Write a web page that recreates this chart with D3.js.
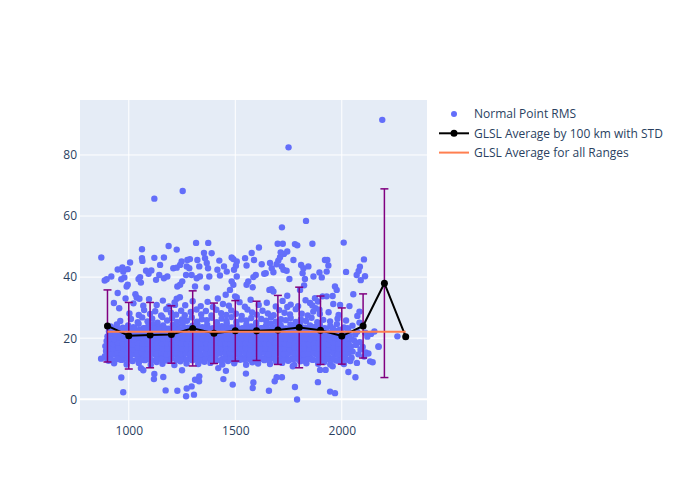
<!DOCTYPE html>
<html>
<head>
<meta charset="utf-8">
<script src="https://cdn.jsdelivr.net/npm/d3@7"></script>
<style>
  body { margin: 0; background: #fff; }
  text { font-family: "Open Sans", verdana, arial, sans-serif; fill: #2a3f5f; }
</style>
</head>
<body>
<div id="chart"></div>
<script>
// Range (km) / RMS pairs, grouped by height band
const rmsOutliers = [[2190,91.5],[1750,82.5],[1120,65.7],[1253,68.2],[1832,58.4],[1719,56.3]];

const rmsHigh = [
  [871,46.4],[887,38.9],[896,39.3],[918,40.2],[948,42.5],[970,43.2],[995,42.6],[974,41.8],
  [965,39.3],[979,39.9],[990,36.9],[995,37.5],[1006,44.8],[948,34.8],[1031,34.4],[1037,33.3],
  [1050,32.9],[1062,49.1],[1062,46.2],[1064,45.3],[1046,39.4],[1053,40.0],[1057,38.2],[1081,42.1],
  [1093,41.1],[1106,42.2],[1120,46.3],[1147,44.0],[1165,46.4],[1143,40.7],[1128,39.1],[1187,50.2],
  [1225,49.0],[1165,39.6],[1181,40.2],[1209,42.9],[1225,43.1],[1241,44.0],[1248,45.1],[1228,36.9],
  [1241,37.5],[1251,38.6],[1217,30.9],[1225,32.9],[1275,45.6],[1287,45.9],[1272,43.5],[1284,42.9],
  [1295,40.7],[1269,40.7],[1316,51.2],[1373,51.2],[1353,47.9],[1322,45.6],[1331,43.5],[1334,40.2],
  [1319,39.6],[1311,36.9],[1358,46.2],[1366,44.6],[1372,42.9],[1389,47.8],[1378,40.2],[1366,36.6],
  [1425,45.4],[1416,42.4],[1447,43.5],[1460,41.8],[1428,40.5],[1483,46.4],[1491,45.9],[1507,45.1],
  [1503,43.7],[1494,42.4],[1507,40.2],[1483,38.6],[1491,37.5],[1455,34.2],[1475,35.8],[1499,33.7],
  [1507,33.3],[1546,46.2],[1553,43.8],[1577,47.9],[1588,45.6],[1596,40.7],[1585,40.0],[1611,49.7],
  [1553,37.5],[1561,38.6],[1582,36.7],[1624,44.2],[1636,41.1],[1643,41.3],[1663,44.6],[1671,42.9],
  [1679,41.6],[1694,44.2],[1702,45.4],[1699,50.9],[1723,50.9],[1713,48.1],[1729,47.6],[1744,48.4],
  [1741,42.1],[1754,39.4],[1726,42.4],[1718,43.5],[1710,46.5],[1660,35.8],[1671,36.0],[1679,35.3],
  [1744,33.9],[1744,30.2],[1780,50.8],[1791,50.4],[1862,50.9],[1773,45.6],[1809,44.0],[1820,42.9],
  [1843,43.5],[1816,41.3],[1827,39.4],[1823,37.3],[1804,35.8],[1851,31.5],[1867,40.2],[1895,41.5],
  [1921,45.6],[1932,45.6],[1937,43.8],[1929,41.8],[1906,39.9],[1874,33.1],[1877,29.8],[1888,32.0],
  [1895,29.3],[1929,33.7],[1910,33.7],[1957,33.8],[1968,36.9],[1976,35.8],[1992,30.9],[2009,51.3],
  [2020,41.7],[2036,30.5],[2054,34.4],[2070,40.7],[2079,42.0],[2085,43.4],[2089,39.0],[2104,45.8],
  [2109,40.3],[2083,28.7],[2083,25.1],[930,31.5],[955,29.8],[985,33.0]
];

const rmsMid = [
  [960,25.6],[1010,26.3],[1042,25.2],[1063,26.8],[1088,25.5],[1110,26.4],[1135,25.1],[1158,26.9],
  [1180,25.8],[1203,26.5],[1226,25.3],[1250,26.1],[1273,25.7],[1296,26.8],[1320,25.4],[1343,26.2],
  [1366,25.9],[1390,26.7],[1413,25.2],[1436,26.4],[1459,25.6],[1482,26.9],[1505,25.3],[1528,26.1],
  [1552,25.8],[1575,26.6],[1598,25.1],[1622,26.3],[1645,25.7],[1668,26.8],[1691,25.4],[1714,26.2],
  [1737,25.9],[1760,26.6],[1784,25.3],[1808,26.1],[1832,25.6],[1858,26.7],[1885,25.2],[1913,26.0],
  [1945,25.5],[1980,26.4],[2020,25.8],[2073,27.3],
  [1003,28.1],[1047,27.6],[1072,29.2],[1100,27.9],[1124,28.8],[1152,27.4],[1176,29.5],[1198,28.3],
  [1222,27.7],[1246,29.0],[1263,27.5],[1291,28.6],[1318,29.4],[1340,27.8],[1362,28.9],[1388,27.4],
  [1411,29.3],[1434,28.2],[1458,27.6],[1481,29.1],[1503,28.0],[1530,27.3],[1557,29.4],[1579,28.4],
  [1601,27.7],[1628,29.0],[1653,28.1],[1680,27.5],[1706,29.2],[1731,28.3],[1757,27.8],[1784,29.5],
  [1812,28.0],[1840,27.4],[1866,28.7],[1897,27.9],[1938,28.5],[1985,27.6],
  [1022,31.4],[1068,30.6],[1095,32.8],[1131,30.9],[1160,32.3],[1188,30.4],[1215,31.7],[1240,33.4],
  [1265,30.8],[1300,32.1],[1338,30.5],[1370,31.9],[1395,30.2],[1418,33.0],[1442,31.2],[1470,30.6],
  [1520,31.8],[1545,30.3],[1572,32.6],[1610,30.9],[1648,31.6],[1690,30.4],[1722,32.2],[1760,31.0],
  [1795,30.5],[1830,32.4],[1862,30.7],[1960,31.2]
];

const rmsBand = [
  [905,12.6],[931,11.8],[962,12.9],[990,11.4],[1018,12.5],[1047,11.9],[1075,12.8],[1103,11.3],
  [1131,12.2],[1158,11.6],[1189,12.9],[1214,11.2],[1242,12.4],[1271,11.7],[1298,12.8],[1326,11.5],
  [1355,12.3],[1383,11.9],[1410,12.7],[1439,11.4],[1466,12.5],[1495,11.8],[1523,12.9],[1551,11.3],
  [1580,12.1],[1607,11.7],[1636,12.8],[1663,11.5],[1692,12.3],[1720,11.9],[1748,12.6],[1777,11.2],
  [1805,12.4],[1834,11.8],[1861,12.9],[1889,11.6],[1918,12.2],[1946,11.4],[1974,12.7],[2003,12.0],
  [2040,12.5],[2071,11.9],
  [888,14.1],[912,13.4],[934,14.7],[957,13.8],[981,14.4],[1004,13.3],[1027,14.9],[1050,13.9],
  [1073,14.3],[1096,13.5],[1119,14.8],[1143,13.7],[1166,14.2],[1188,13.4],[1212,14.6],[1235,13.9],
  [1257,14.4],[1281,13.2],[1304,14.8],[1326,14.0],[1349,13.6],[1373,14.5],[1396,13.8],[1418,14.9],
  [1441,13.3],[1464,14.2],[1488,13.7],[1510,14.6],[1533,13.5],[1556,14.3],[1580,13.9],[1602,14.7],
  [1625,13.4],[1648,14.1],[1671,13.8],[1694,14.9],[1717,13.6],[1740,14.4],[1763,13.2],[1786,14.6],
  [1809,13.9],[1832,14.3],[1855,13.5],[1878,14.8],[1901,13.7],[1924,14.2],[1947,13.4],[1970,14.6],
  [1993,13.9],[2017,14.4],[2046,13.6],[2078,14.7],[2105,14.0],
  [893,15.8],[917,16.4],[940,15.3],[963,16.1],[986,15.6],[1009,16.5],[1032,15.2],[1055,16.0],
  [1079,15.7],[1101,16.3],[1124,15.4],[1147,16.6],[1170,15.9],[1193,15.1],[1216,16.2],[1239,15.6],
  [1262,16.4],[1285,15.3],[1308,16.0],[1332,15.8],[1354,16.5],[1377,15.2],[1400,16.1],[1423,15.7],
  [1446,16.4],[1469,15.4],[1492,16.0],[1515,15.9],[1538,16.6],[1561,15.3],[1584,16.2],[1607,15.6],
  [1630,16.3],[1653,15.1],[1676,15.9],[1699,16.5],[1722,15.5],[1745,16.1],[1768,15.8],[1791,16.4],
  [1814,15.2],[1837,16.0],[1860,15.7],[1883,16.6],[1906,15.4],[1929,16.2],[1952,15.9],[1975,16.4],
  [1998,15.3],[2022,16.1],[2051,15.6],[2088,16.3],
  [890,17.4],[914,16.9],[937,18.0],[960,17.2],[983,17.8],[1006,16.8],[1029,17.6],[1052,18.1],
  [1075,17.0],[1098,17.7],[1121,16.7],[1144,17.9],[1167,17.3],[1190,18.2],[1213,16.9],[1236,17.5],
  [1259,18.0],[1282,17.1],[1305,17.8],[1328,16.7],[1351,17.6],[1374,18.1],[1397,17.2],[1420,17.9],
  [1443,16.8],[1466,17.4],[1489,18.2],[1512,17.0],[1535,17.7],[1558,16.9],[1581,17.8],[1604,17.3],
  [1627,18.1],[1650,16.8],[1673,17.5],[1696,18.0],[1719,17.1],[1742,17.7],[1765,16.9],[1788,17.9],
  [1811,17.3],[1834,18.1],[1857,16.7],[1880,17.6],[1903,18.0],[1926,17.2],[1949,17.8],[1972,16.9],
  [1995,17.5],[2019,18.1],[2043,17.3],[2067,17.8],[2098,17.1],
  [896,19.1],[919,18.5],[942,19.6],[965,18.8],[988,19.3],[1011,18.4],[1034,19.7],[1057,18.9],
  [1080,19.4],[1103,18.3],[1126,19.0],[1149,19.8],[1172,18.6],[1195,19.2],[1218,18.4],[1241,19.6],
  [1264,18.9],[1287,19.3],[1310,18.5],[1333,19.7],[1356,19.0],[1379,18.3],[1402,19.5],[1425,18.8],
  [1448,19.2],[1471,18.6],[1494,19.8],[1517,19.0],[1540,18.4],[1563,19.4],[1586,18.7],[1609,19.6],
  [1632,18.9],[1655,19.3],[1678,18.3],[1701,19.1],[1724,19.7],[1747,18.6],[1770,19.4],[1793,18.8],
  [1816,19.6],[1839,18.4],[1862,19.2],[1885,18.9],[1908,19.7],[1931,18.5],[1954,19.3],[1977,18.8],
  [2000,19.5],[2027,18.6],[2058,19.2],[2084,18.7],
  [900,20.6],[926,21.2],[949,20.1],[972,20.9],[995,21.3],[1018,20.2],[1041,20.8],[1064,21.4],
  [1087,20.4],[1110,21.0],[1133,20.0],[1156,20.7],[1179,21.3],[1202,20.3],[1225,21.0],[1248,20.5],
  [1271,21.4],[1294,20.1],[1317,20.8],[1340,21.2],[1363,20.4],[1386,21.0],[1409,20.6],[1432,21.3],
  [1455,20.0],[1478,20.9],[1501,21.4],[1524,20.3],[1547,20.8],[1570,21.1],[1593,20.2],[1616,20.9],
  [1639,21.4],[1662,20.5],[1685,21.0],[1708,20.1],[1731,20.8],[1754,21.3],[1777,20.4],[1800,21.0],
  [1823,20.6],[1846,21.3],[1869,20.2],[1892,20.9],[1915,21.2],[1938,20.4],[1961,20.8],[1984,21.1],
  [2011,20.3],[2035,20.9],[2063,21.2],[2120,20.5],
  [907,22.3],[933,21.7],[958,22.8],[981,22.0],[1004,22.6],[1027,21.6],[1050,22.4],[1073,22.9],
  [1096,21.8],[1119,22.5],[1142,21.5],[1165,22.2],[1188,22.9],[1211,21.9],[1234,22.6],[1257,21.6],
  [1280,22.3],[1303,22.8],[1326,21.8],[1349,22.5],[1372,22.0],[1395,22.9],[1418,21.7],[1441,22.4],
  [1464,22.9],[1487,21.9],[1510,22.5],[1533,21.5],[1556,22.3],[1579,22.8],[1602,21.7],[1625,22.4],
  [1648,22.9],[1671,22.0],[1694,22.6],[1717,21.6],[1740,22.3],[1763,22.8],[1786,21.9],[1809,22.5],
  [1832,21.6],[1855,22.2],[1878,22.8],[1901,21.8],[1924,22.5],[1947,21.7],[1973,22.4],[1999,21.9],
  [2030,22.6],[2072,22.1],[2110,21.8],
  [915,23.8],[944,24.5],[972,23.4],[997,24.2],[1022,23.6],[1046,24.7],[1069,23.3],[1092,24.0],
  [1115,24.6],[1138,23.5],[1161,24.2],[1184,23.1],[1207,24.4],[1230,23.8],[1253,24.7],[1276,23.4],
  [1299,24.1],[1322,24.6],[1345,23.6],[1368,24.3],[1391,23.2],[1414,24.5],[1437,23.9],[1460,24.7],
  [1483,23.5],[1506,24.2],[1529,23.1],[1552,24.4],[1575,23.8],[1598,24.6],[1621,23.3],[1644,24.1],
  [1667,24.7],[1690,23.6],[1713,24.3],[1736,23.2],[1759,24.5],[1782,23.9],[1805,24.6],[1828,23.4],
  [1851,24.2],[1874,23.7],[1897,24.4],[1920,23.3],[1946,24.0],[1977,24.6],[2010,23.5],[2050,24.1],
  [2137,21.4],[2153,22.2],[2172,17.3],[2261,20.6],[2133,12.4],[2145,12.1],[2112,15.3],[2125,15.0],[2173,17.2]
];

// second pass over the dense core, between the rows above
const rmsCore = [
  [899,13.0],[923,12.8],[946,13.2],[970,12.9],[995,13.1],[1016,12.7],[1040,13.3],[1062,12.9],
  [1086,13.1],[1108,12.8],[1132,13.2],[1155,13.0],[1178,12.7],[1200,13.3],[1224,12.9],[1247,13.1],
  [1270,12.8],[1293,13.2],[1315,13.0],[1338,12.7],[1361,13.3],[1385,12.9],[1408,13.1],[1430,12.8],
  [1453,13.2],[1476,13.0],[1499,12.7],[1522,13.3],[1545,12.9],[1568,13.1],[1591,12.8],[1614,13.2],
  [1637,13.0],[1660,12.7],[1683,13.3],[1706,12.9],[1729,13.1],[1752,12.8],[1775,13.2],[1798,13.0],
  [1821,12.7],[1844,13.3],[1867,12.9],[1890,13.1],[1913,12.8],[1936,13.2],[1959,13.0],[1982,12.7],
  [2005,13.3],[2030,12.9],
  [901,15.1],[924,14.8],[947,15.3],[968,14.9],[993,15.2],[1014,14.7],[1039,15.0],[1061,15.3],
  [1085,14.8],[1106,15.1],[1131,14.9],[1153,15.2],[1178,14.7],[1198,15.0],[1223,15.3],[1245,14.8],
  [1269,15.1],[1291,14.9],[1316,15.2],[1336,14.7],[1361,15.0],[1383,15.3],[1408,14.8],[1428,15.1],
  [1453,14.9],[1474,15.2],[1500,14.7],[1520,15.0],[1545,15.3],[1566,14.8],[1592,15.1],[1612,14.9],
  [1637,15.2],[1658,14.7],[1683,15.0],[1704,15.3],[1729,14.8],[1750,15.1],[1775,14.9],[1796,15.2],
  [1821,14.7],[1842,15.0],[1867,15.3],[1888,14.8],[1913,15.1],[1934,14.9],[1959,15.2],[1980,14.7],
  [2006,15.0],[2033,15.2],
  [903,16.7],[928,16.5],[951,16.9],[974,16.6],[997,16.8],[1020,16.4],[1043,16.9],[1066,16.6],
  [1089,16.7],[1112,16.5],[1135,16.9],[1158,16.6],[1181,16.8],[1204,16.4],[1227,16.9],[1250,16.6],
  [1273,16.7],[1296,16.5],[1319,16.9],[1342,16.6],[1365,16.8],[1388,16.4],[1411,16.9],[1434,16.6],
  [1457,16.7],[1480,16.5],[1503,16.9],[1526,16.6],[1549,16.8],[1572,16.4],[1595,16.9],[1618,16.6],
  [1641,16.7],[1664,16.5],[1687,16.9],[1710,16.6],[1733,16.8],[1756,16.4],[1779,16.9],[1802,16.6],
  [1825,16.7],[1848,16.5],[1871,16.9],[1894,16.6],[1917,16.8],[1940,16.4],[1963,16.9],[1986,16.6],
  [2008,16.7],[2034,16.5],
  [902,18.3],[926,18.1],[949,18.5],[972,18.2],[995,18.4],[1018,18.0],[1041,18.5],[1064,18.2],
  [1087,18.3],[1110,18.1],[1133,18.5],[1156,18.2],[1179,18.4],[1202,18.0],[1225,18.5],[1248,18.2],
  [1271,18.3],[1294,18.1],[1317,18.5],[1340,18.2],[1363,18.4],[1386,18.0],[1409,18.5],[1432,18.2],
  [1455,18.3],[1478,18.1],[1501,18.5],[1524,18.2],[1547,18.4],[1570,18.0],[1593,18.5],[1616,18.2],
  [1639,18.3],[1662,18.1],[1685,18.5],[1708,18.2],[1731,18.4],[1754,18.0],[1777,18.5],[1800,18.2],
  [1823,18.3],[1846,18.1],[1869,18.5],[1892,18.2],[1915,18.4],[1938,18.0],[1961,18.5],[1984,18.2],
  [2007,18.3],[2032,18.1],
  [906,19.9],[931,19.7],[954,20.1],[977,19.8],[1000,20.0],[1023,19.6],[1046,20.1],[1069,19.8],
  [1092,19.9],[1115,19.7],[1138,20.1],[1161,19.8],[1184,20.0],[1207,19.6],[1230,20.1],[1253,19.8],
  [1276,19.9],[1299,19.7],[1322,20.1],[1345,19.8],[1368,20.0],[1391,19.6],[1414,20.1],[1437,19.8],
  [1460,19.9],[1483,19.7],[1506,20.1],[1529,19.8],[1552,20.0],[1575,19.6],[1598,20.1],[1621,19.8],
  [1644,19.9],[1667,19.7],[1690,20.1],[1713,19.8],[1736,20.0],[1759,19.6],[1782,20.1],[1805,19.8],
  [1828,19.9],[1851,19.7],[1874,20.1],[1897,19.8],[1920,20.0],[1943,19.6],[1966,20.1],[1989,19.8],
  [2018,19.9],[2046,19.7],
  [912,21.5],[937,21.3],[960,21.7],[983,21.4],[1006,21.6],[1029,21.2],[1052,21.7],[1075,21.4],
  [1098,21.5],[1121,21.3],[1144,21.7],[1167,21.4],[1190,21.6],[1213,21.2],[1236,21.7],[1259,21.4],
  [1282,21.5],[1305,21.3],[1328,21.7],[1351,21.4],[1374,21.6],[1397,21.2],[1420,21.7],[1443,21.4],
  [1466,21.5],[1489,21.3],[1512,21.7],[1535,21.4],[1558,21.6],[1581,21.2],[1604,21.7],[1627,21.4],
  [1650,21.5],[1673,21.3],[1696,21.7],[1719,21.4],[1742,21.6],[1765,21.2],[1788,21.7],[1811,21.4],
  [1834,21.5],[1857,21.3],[1880,21.7],[1903,21.4],[1926,21.6],[1949,21.2],[1975,21.7],[2002,21.4],
  [2024,21.5],
  [925,23.1],[952,22.9],[978,23.3],[1003,23.0],[1027,23.2],[1051,22.8],[1075,23.3],[1098,23.0],
  [1121,23.1],[1144,22.9],[1167,23.3],[1190,23.0],[1213,23.2],[1236,22.8],[1259,23.3],[1282,23.0],
  [1305,23.1],[1328,22.9],[1351,23.3],[1374,23.0],[1397,23.2],[1420,22.8],[1443,23.3],[1466,23.0],
  [1489,23.1],[1512,22.9],[1535,23.3],[1558,23.0],[1581,23.2],[1604,22.8],[1627,23.3],[1650,23.0],
  [1673,23.1],[1696,22.9],[1719,23.3],[1742,23.0],[1765,23.2],[1788,22.8],[1811,23.3],[1834,23.0],
  [1857,23.1],[1880,22.9],[1903,23.3],[1928,23.0],[1958,23.2],[1990,22.8],[2028,23.3]
];

const rmsLow = [
  [870,13.3],[965,7.1],[974,2.3],[1057,10.2],[1068,9.5],[1120,8.3],[1118,6.6],[1162,7.3],
  [1173,2.9],[1228,2.8],[1250,9.5],[1272,3.5],[1269,1.0],[1295,4.2],[1306,1.5],[1311,6.4],
  [1331,7.5],[1330,5.9],[1420,10.2],[1444,6.6],[1456,9.3],[1488,4.8],[1550,8.4],[1582,3.7],
  [1585,5.5],[1658,2.8],[1685,5.9],[1694,7.2],[1719,7.2],[1780,4.0],[1790,-0.1],[1770,10.8],
  [1888,5.6],[1898,9.6],[1924,9.6],[1945,2.5],[1968,2.0],[2031,8.9],[2064,7.2],[1957,10.8],[2010,11.5]
];

// GLSL average per 100 km bin with standard deviation
const binRange = [900,1000,1100,1200,1300,1400,1500,1600,1700,1800,1900,2000,2100,2200,2300];
const binMean  = [24.0,20.8,21.0,21.2,23.2,21.6,22.4,22.4,22.7,23.5,22.6,20.7,24.0,38.0,20.5];
const binStd   = [11.8,10.9,10.7,9.4,12.3,9.9,9.9,9.7,11.3,13.2,11.2,9.2,10.5,30.9,null];

const overallMean = 22.1;
const xTicks = [1000,1500,2000];
const yTicks = [0,20,40,60,80];

const legendLabels = ["Normal Point RMS","GLSL Average by 100 km with STD","GLSL Average for all Ranges"];

let margin = {top: 100, left: 80, right: 273, bottom: 80},
  width = 700 - margin.left - margin.right,
  height = 500 - margin.top - margin.bottom;

let svg = d3.select("#chart").append("svg")
    .attr("width", 700)
    .attr("height", 500);

let g = svg.append("g")
    .attr("transform", "translate(" + margin.left + "," + margin.top + ")");

let xScale = d3.scaleLinear().domain([771, 2400]).range([0, width]);
let yScale = d3.scaleLinear().domain([-6.8, 98]).range([height, 0]);

// plot background
g.append("rect")
    .attr("width", width)
    .attr("height", height)
    .attr("fill", "#e5ecf6");

// grid lines
g.append("g").selectAll("line")
  .data(xTicks)
  .enter().append("line")
    .attr("x1", d => xScale(d)).attr("x2", d => xScale(d))
    .attr("y1", 0).attr("y2", height)
    .attr("stroke", "#fff").attr("stroke-width", 1);

g.append("g").selectAll("line")
  .data(yTicks)
  .enter().append("line")
    .attr("x1", 0).attr("x2", width)
    .attr("y1", d => yScale(d)).attr("y2", d => yScale(d))
    .attr("stroke", "#fff").attr("stroke-width", d => d === 0 ? 2 : 1);

// axes (labels only)
let xAxis = g.append("g")
    .attr("transform", "translate(0," + height + ")")
    .call(d3.axisBottom(xScale).tickValues(xTicks).tickFormat(d3.format("d")).tickSize(0).tickPadding(6));
let yAxis = g.append("g")
    .call(d3.axisLeft(yScale).tickValues(yTicks).tickSize(0).tickPadding(3));
[xAxis, yAxis].forEach(a => {
  a.select(".domain").remove();
  a.selectAll("text").attr("font-size", 12).attr("font-family", null).style("fill", "#2a3f5f");
});

// scatter
let allPoints = rmsOutliers.concat(rmsHigh, rmsMid, rmsBand, rmsCore, rmsLow);
g.append("clipPath").attr("id", "plotclip")
  .append("rect").attr("width", width).attr("height", height);

let plot = g.append("g").attr("clip-path", "url(#plotclip)");

plot.append("g")
    .attr("fill", "#636efa")
  .selectAll("circle")
  .data(allPoints)
  .enter().append("circle")
    .attr("cx", d => xScale(d[0]))
    .attr("cy", d => yScale(d[1]))
    .attr("r", 3.2);

// error bars
let bins = binRange.map((r, i) => ({range: r, mean: binMean[i], std: binStd[i]}));
let errG = plot.append("g")
    .attr("stroke", "purple")
    .attr("stroke-width", 1.5);
bins.filter(d => d.std != null).forEach(d => {
  let x = xScale(d.range);
  let y1 = yScale(d.mean + d.std), y2 = yScale(d.mean - d.std);
  errG.append("line").attr("x1", x).attr("x2", x).attr("y1", y1).attr("y2", y2);
  errG.append("line").attr("x1", x - 4).attr("x2", x + 4).attr("y1", y1).attr("y2", y1);
  errG.append("line").attr("x1", x - 4).attr("x2", x + 4).attr("y1", y2).attr("y2", y2);
});

// average line by bin
let line = d3.line().x(d => xScale(d.range)).y(d => yScale(d.mean));
plot.append("path")
    .datum(bins)
    .attr("d", line)
    .attr("fill", "none")
    .attr("stroke", "black")
    .attr("stroke-width", 2);

plot.append("g").selectAll("circle")
  .data(bins)
  .enter().append("circle")
    .attr("cx", d => xScale(d.range))
    .attr("cy", d => yScale(d.mean))
    .attr("r", 3.5)
    .attr("fill", "black");

// overall average
plot.append("line")
    .attr("x1", xScale(binRange[0]))
    .attr("x2", xScale(binRange[binRange.length - 1]))
    .attr("y1", yScale(overallMean))
    .attr("y2", yScale(overallMean))
    .attr("stroke", "#ff7f50")
    .attr("stroke-width", 2);

// legend
let legend = svg.append("g").attr("transform", "translate(439,114)");
legendLabels.forEach((label, i) => {
  let item = legend.append("g").attr("transform", "translate(0," + (i * 19.3) + ")");
  if (i === 0) {
    item.append("circle").attr("cx", 15).attr("cy", 0).attr("r", 3).attr("fill", "#636efa");
  } else if (i === 1) {
    item.append("line").attr("x1", 0).attr("x2", 30).attr("stroke", "black").attr("stroke-width", 2);
    item.append("circle").attr("cx", 15).attr("cy", 0).attr("r", 3.5).attr("fill", "black");
  } else {
    item.append("line").attr("x1", 0).attr("x2", 30).attr("stroke", "#ff7f50").attr("stroke-width", 2);
  }
  item.append("text")
      .attr("x", 35)
      .attr("y", 0)
      .attr("dy", "0.35em")
      .attr("font-size", 12)
      .text(label);
});
</script>
</body>
</html>
